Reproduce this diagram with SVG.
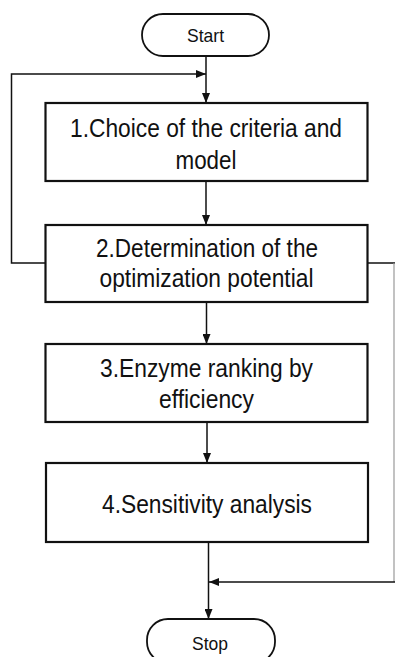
<svg xmlns="http://www.w3.org/2000/svg" width="395" height="657" viewBox="0 0 395 657">
<defs>
<marker id="ah" viewBox="0 0 10 8" refX="10" refY="4" markerWidth="10" markerHeight="8" markerUnits="userSpaceOnUse" orient="auto">
<path d="M0,0 L10,4 L0,8 Z" fill="#111"/>
</marker>
</defs>
<style>
.box{fill:#fff;stroke:#111;stroke-width:2.2}
.term{fill:#fff;stroke:#111;stroke-width:1.8}
.t{font-family:"Liberation Sans",Arial,sans-serif;font-size:25px;fill:#111;text-anchor:middle}
.ts{font-family:"Liberation Sans",Arial,sans-serif;font-size:19px;fill:#111;text-anchor:middle}
.c{fill:none;stroke:#111;stroke-width:1.5}
.cf{fill:none;stroke:#999;stroke-width:1.2}
</style>
<rect width="395" height="657" fill="#fff"/>
<g id="connectors">
<line class="c" x1="206" y1="56" x2="206" y2="103" marker-end="url(#ah)"/>
<polyline class="c" points="45,263 11.5,263 11.5,74 206,74" marker-end="url(#ah)"/>
<line class="c" x1="206" y1="181" x2="206" y2="225" marker-end="url(#ah)"/>
<line class="c" x1="206.5" y1="302" x2="206.5" y2="344" marker-end="url(#ah)"/>
<line class="c" x1="207" y1="422" x2="207" y2="463" marker-end="url(#ah)"/>
<line class="c" x1="208.5" y1="542" x2="208.5" y2="619" marker-end="url(#ah)"/>
<line class="c" x1="367" y1="263" x2="395" y2="263"/>
<line class="cf" x1="394" y1="263" x2="394" y2="582"/>
<line class="c" x1="395" y1="582" x2="209" y2="582" marker-end="url(#ah)"/>
</g>
<g id="start">
<rect class="term" x="142" y="14" width="127" height="42" rx="21" ry="21"/>
<text class="ts" x="205.5" y="42" textLength="37" lengthAdjust="spacingAndGlyphs">Start</text>
</g>
<g id="step1">
<rect class="box" x="45.5" y="103" width="322" height="78"/>
<text class="t" x="206" y="137" textLength="272" lengthAdjust="spacingAndGlyphs">1.Choice of the criteria and</text>
<text class="t" x="206" y="168.5" textLength="61" lengthAdjust="spacingAndGlyphs">model</text>
</g>
<g id="step2">
<rect class="box" x="45.5" y="225" width="322" height="77"/>
<text class="t" x="207" y="256.5" textLength="222" lengthAdjust="spacingAndGlyphs">2.Determination of the</text>
<text class="t" x="206.5" y="287" textLength="214" lengthAdjust="spacingAndGlyphs">optimization potential</text>
</g>
<g id="step3">
<rect class="box" x="45.5" y="344" width="322" height="78"/>
<text class="t" x="206.5" y="376.5" textLength="213" lengthAdjust="spacingAndGlyphs">3.Enzyme ranking by</text>
<text class="t" x="206.5" y="407.5" textLength="95" lengthAdjust="spacingAndGlyphs">efficiency</text>
</g>
<g id="step4">
<rect class="box" x="46" y="463" width="322" height="79"/>
<text class="t" x="207" y="513" textLength="210" lengthAdjust="spacingAndGlyphs">4.Sensitivity analysis</text>
</g>
<g id="stop">
<rect class="term" x="147" y="619" width="128" height="44" rx="21" ry="21"/>
<text class="ts" x="210" y="649.5" textLength="36" lengthAdjust="spacingAndGlyphs">Stop</text>
</g>
</svg>
